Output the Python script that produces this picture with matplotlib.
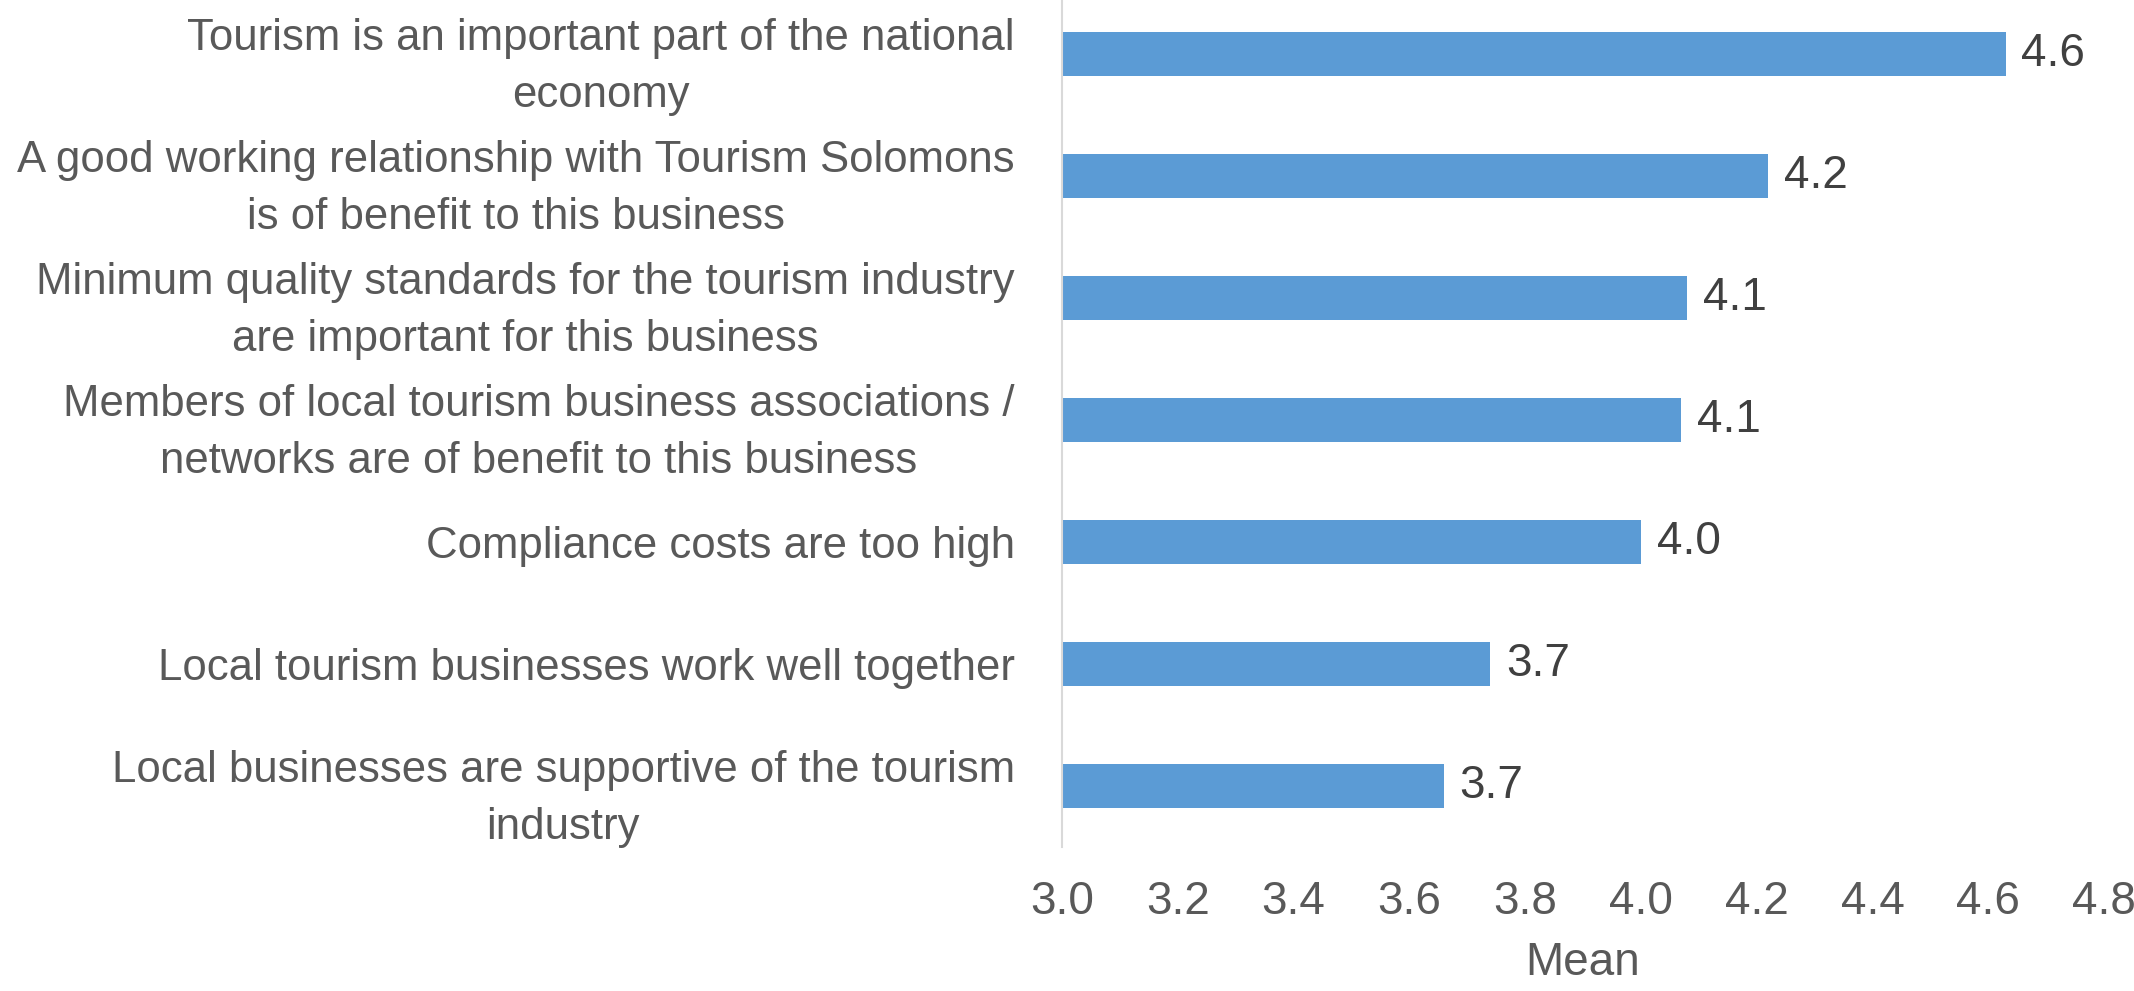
import matplotlib
matplotlib.use("Agg")
import matplotlib.pyplot as plt

plt.rcParams["font.family"] = ["Liberation Sans Narrow", "Liberation Sans", "DejaVu Sans"]

# survey statements, top to bottom
statements = [
    "Tourism is an important part of the national\neconomy",
    "A good working relationship with Tourism Solomons\nis of benefit to this business",
    "Minimum quality standards for the tourism industry\nare important for this business",
    "Members of local tourism business associations /\nnetworks are of benefit to this business",
    "Compliance costs are too high",
    "Local tourism businesses work well together",
    "Local businesses are supportive of the tourism\nindustry",
]
means = [4.63, 4.22, 4.08, 4.07, 4.00, 3.74, 3.66]
xticks = [3.0, 3.2, 3.4, 3.6, 3.8, 4.0, 4.2, 4.4, 4.6, 4.8]

BAR = "#5B9BD5"
TXT = "#595959"

fig = plt.figure(figsize=(21.34, 9.91), dpi=100)
ax = fig.add_axes([1062 / 2134, 1 - 847 / 991, (2104 - 1062) / 2134, 854 / 991])

ypos = list(range(len(statements)))
ax.barh(ypos, [m - 3.0 for m in means], left=3.0, height=0.36, color=BAR)
for y, m in zip(ypos, means):
    ax.text(m + 0.027, y, f"{m:.1f}", va="center", ha="left", fontsize=33, color="#404040")

ax.set_xlim(3.0, 4.8)
ax.set_ylim(len(statements) - 0.5, -0.5)
ax.set_xticks(xticks)
ax.set_xticklabels([f"{v:.1f}" for v in xticks])
ax.set_yticks(ypos)
ax.set_yticklabels(statements, linespacing=1.5)
for lab in ax.get_yticklabels():
    lab.set_multialignment("center")

ax.tick_params(axis="y", length=0, pad=34, labelsize=31.5, labelcolor=TXT)
ax.tick_params(axis="x", length=0, pad=24, labelsize=33, labelcolor=TXT)
ax.set_xlabel("Mean", fontsize=33, color=TXT, labelpad=12)

for side in ["top", "right", "bottom"]:
    ax.spines[side].set_visible(False)
ax.spines["left"].set_color("#D9D9D9")
ax.spines["left"].set_linewidth(1.5)

fig.savefig("out.png", dpi=100)
